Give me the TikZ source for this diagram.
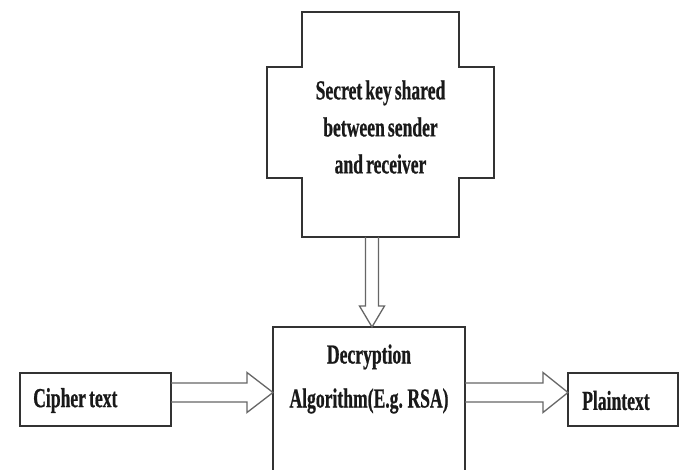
\documentclass[tikz,border=0pt]{standalone}
\usepackage{fontspec}
\usetikzlibrary{calc}
% Condensed bold serif used for every label
\newfontfamily\lblfont[FakeStretch=0.64, WordSpace=0.7, FakeBold=0.6]{Liberation Serif}

\tikzset{
  boxline/.style={draw=black!80, line width=1.6pt},
  blockarrow/.style={draw=black!60, line width=1.3pt, line join=miter},
  lbl/.style={font=\lblfont\bfseries\fontsize{27.5}{37}\selectfont, text=black!90},
  plainbox/.style={boxline, rectangle, outer sep=0pt, minimum height=53pt},
}

\begin{document}
\begin{tikzpicture}[x=1pt, y=-1pt]
  \useasboundingbox (0,0) rectangle (680,470);
  \clip (0,0) rectangle (680,470);
  \fill[white] (0,0) rectangle (680,470);

  % Shared secret key: plus-shaped outline around the text
  \node[rectangle, outer sep=0pt, minimum width=157pt, minimum height=225pt]
    (key) at (380.5,124.5) {};
  \draw[boxline, line join=miter]
    (key.north west) -- (key.north east)
    -- ($(key.north east)+(0,55)$) -- ($(key.north east)+(35,55)$)
    -- ($(key.south east)+(35,-59)$) -- ($(key.south east)+(0,-59)$)
    -- (key.south east) -- (key.south west)
    -- ($(key.south west)+(0,-59)$) -- ($(key.south west)+(-35,-59)$)
    -- ($(key.north west)+(-35,55)$) -- ($(key.north west)+(0,55)$)
    -- cycle;
  \node[lbl, align=center] (keytext) at (380.5,127)
    {Secret key shared\\between sender\\and receiver};

  % Decryption algorithm box (continues below the lower edge)
  \node[boxline, rectangle, outer sep=0pt, minimum width=192pt,
    minimum height=160pt] (dec) at (369,407) {};
  \node[lbl, align=center, font=\lblfont\bfseries\fontsize{27.5}{44}\selectfont]
    (dectext) at (369,379) {Decryption\\Algorithm(E.g. RSA)};

  % Input and output boxes, labels set flush left inside them
  \node[plainbox, minimum width=151pt] (cipher) at (95.5,399.5) {};
  \node[lbl, anchor=west, inner sep=0pt] (ciphertext)
    at ($(cipher.west)+(13,1)$) {Cipher text};
  \node[plainbox, minimum width=110pt] (plain) at (623,399.5) {};
  \node[lbl, anchor=west, inner sep=0pt] (plaintext)
    at ($(plain.west)+(14,1)$) {Plaintext};

  % Hollow block arrow: key -> algorithm
  \coordinate (d1) at (key.south -| 372,0);
  \coordinate (d1t) at (dec.north -| 372,0);
  \draw[blockarrow]
    ($(d1)+(-6.5,0)$) -- ($(d1t)+(-6.5,-21)$) -- ($(d1t)+(-12.5,-21)$)
    -- (d1t) -- ($(d1t)+(12.5,-21)$) -- ($(d1t)+(6.5,-21)$)
    -- ($(d1)+(6.5,0)$);

  % Hollow block arrow: cipher text -> algorithm
  \coordinate (a1) at (cipher.east |- 0,392.5);
  \coordinate (a1t) at (dec.west |- 0,392.5);
  \draw[blockarrow]
    ($(a1)+(0,-9.5)$) -- ($(a1t)+(-26,-9.5)$) -- ($(a1t)+(-26,-20)$)
    -- (a1t) -- ($(a1t)+(-26,20)$) -- ($(a1t)+(-26,9.5)$)
    -- ($(a1)+(0,9.5)$);

  % Hollow block arrow: algorithm -> plaintext
  \coordinate (a2) at (dec.east |- 0,392.5);
  \coordinate (a2t) at (plain.west |- 0,392.5);
  \draw[blockarrow]
    ($(a2)+(0,-9.5)$) -- ($(a2t)+(-25,-9.5)$) -- ($(a2t)+(-25,-20)$)
    -- (a2t) -- ($(a2t)+(-25,20)$) -- ($(a2t)+(-25,9.5)$)
    -- ($(a2)+(0,9.5)$);
\end{tikzpicture}
\end{document}
